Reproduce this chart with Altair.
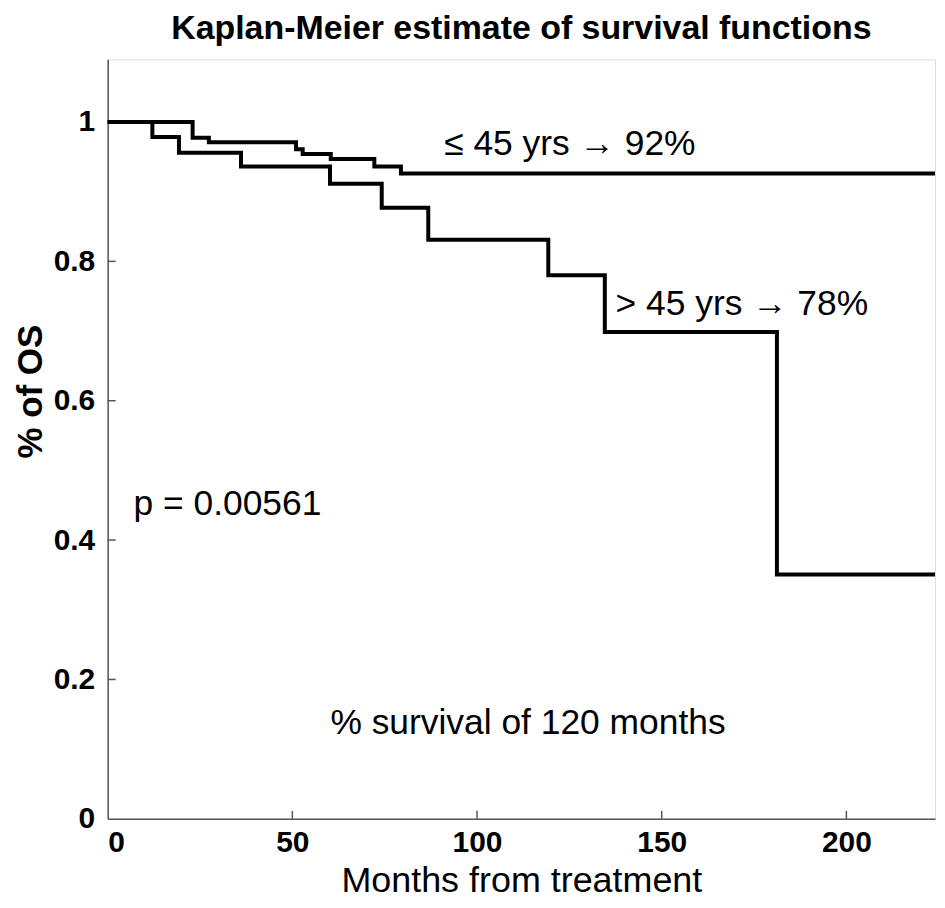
import altair as alt
import pandas as pd

# Kaplan-Meier step data
young_months = [0, 23, 27.4, 51, 52.8, 60.4, 72.2, 79.4, 224]
young_surv = [1.0, 0.9775, 0.971, 0.961, 0.954, 0.947, 0.936, 0.926, 0.926]
old_months = [0, 12.1, 19.3, 36.1, 60.2, 74.2, 86.8, 119.3, 134.6, 181.2, 224]
old_surv = [1.0, 0.9785, 0.956, 0.936, 0.9115, 0.877, 0.831, 0.78, 0.6986, 0.3505, 0.3505]

x_ticks = [50, 100, 150, 200]
y_ticks = [0.2, 0.4, 0.6, 0.8, 1.0]

ann_text = ["\u2264 45 yrs \u2192 92%", "> 45 yrs \u2192 78%", "p = 0.00561", "% survival of 120 months"]
ann_x = [91.1, 137.5, 7.0, 60.3]
ann_y = [0.953, 0.7225, 0.4363, 0.1216]

W, H = 830, 762
XDOM = [0, 224]
YDOM = [0, 1.09]

df = pd.concat([
    pd.DataFrame({"month": young_months, "surv": young_surv, "group": "<=45"}),
    pd.DataFrame({"month": old_months, "surv": old_surv, "group": ">45"}),
])

xs = alt.Scale(domain=XDOM, nice=False, zero=False)
ys = alt.Scale(domain=YDOM, nice=False, zero=False)

FONT = "Liberation Sans"

lines = alt.Chart(df).mark_line(interpolate="step-after", color="black", strokeWidth=4,
                                 strokeCap="square", clip=True).encode(
    x=alt.X("month:Q", scale=xs,
            axis=alt.Axis(title="Months from treatment", values=[0, 50, 100, 150, 200],
                          ticks=False, grid=False, labelFontSize=30, labelFontWeight="bold",
                          labelPadding=9, titleFontSize=36, titleFontWeight="normal",
                          titleBaseline="alphabetic", titleY=73,
                          domainColor="#555", domainWidth=1.5,
                          labelColor="black", titleColor="black", labelFont=FONT, titleFont=FONT)),
    y=alt.Y("surv:Q", scale=ys,
            axis=alt.Axis(title="% of OS", values=[0, 0.2, 0.4, 0.6, 0.8, 1],
                          ticks=False, grid=False, labelFontSize=30, labelFontWeight="bold",
                          labelPadding=13, titleFontSize=35, titleFontWeight="bold",
                          titleBaseline="middle", titleX=-77, titleY=333,
                          domainColor="#555", domainWidth=1.5,
                          labelColor="black", titleColor="black", labelFont=FONT, titleFont=FONT,
                          labelExpr="datum.value == 0 ? '0' : datum.value == 1 ? '1' : format(datum.value, '.1f')")),
    detail="group:N",
)

xt = alt.Chart(pd.DataFrame({"t": x_ticks})).mark_rule(color="#555", strokeWidth=1.5).encode(
    x=alt.X("t:Q", scale=xs), y=alt.value(H), y2=alt.value(H - 8))
yt = alt.Chart(pd.DataFrame({"t": y_ticks})).mark_rule(color="#555", strokeWidth=1.5).encode(
    y=alt.Y("t:Q", scale=ys), x=alt.value(0), x2=alt.value(8))

ann = alt.Chart(pd.DataFrame({"text": ann_text, "x": ann_x, "y": ann_y})).mark_text(
    align="left", baseline="alphabetic", fontSize=35.5, font=FONT, color="black").encode(
    x=alt.X("x:Q", scale=xs), y=alt.Y("y:Q", scale=ys), text="text:N")

chart = alt.layer(yt, xt, lines, ann).properties(
    width=W, height=H,
    title=alt.TitleParams("Kaplan-Meier estimate of survival functions", fontSize=34,
                          fontWeight="bold", font=FONT, color="black", anchor="middle", offset=13),
    autosize=alt.AutoSizeParams(type="none"),
    padding={"left": 100, "top": 50, "right": 2, "bottom": 80},
).configure_view(stroke=None).configure(background="white")

chart.save("out.html", embed_options={"renderer": "svg", "actions": False})
